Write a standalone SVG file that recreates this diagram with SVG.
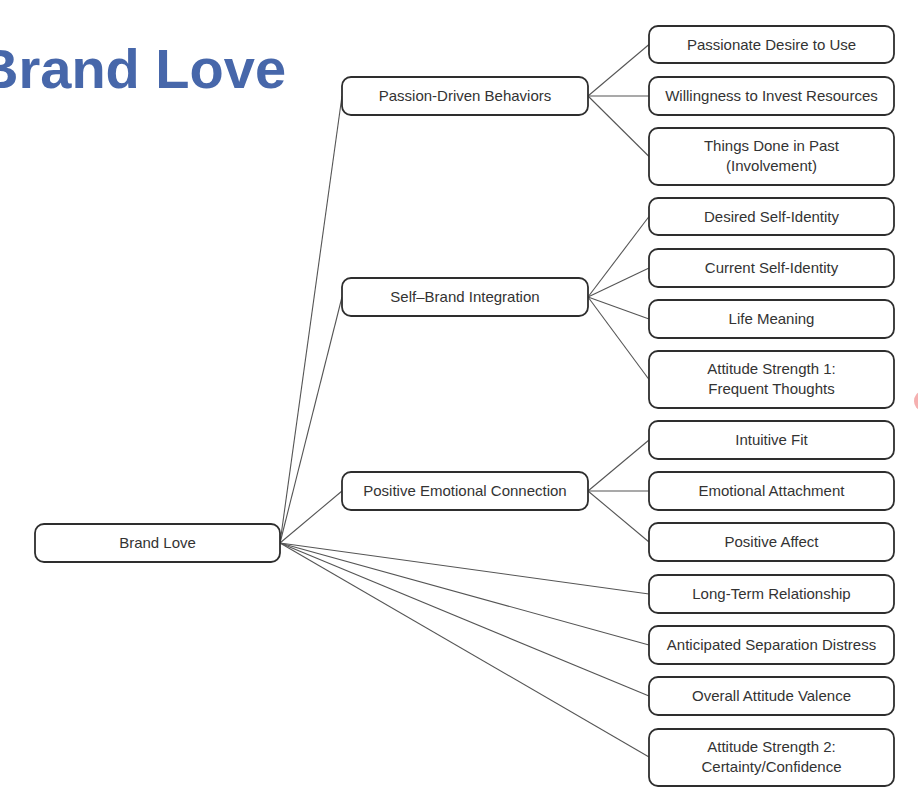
<svg xmlns="http://www.w3.org/2000/svg" width="918" height="798" viewBox="0 0 918 798">
<style>
.box{fill:#fff;stroke:#2e2e2e;stroke-width:1.8}
.t{font-family:"Liberation Sans",Arial,sans-serif;font-size:15px;fill:#333;text-anchor:middle}
.c line{stroke:#555;stroke-width:1.1}
</style>
<rect width="918" height="798" fill="#fff"/>
<text x="-22" y="88" font-family="Liberation Sans,Arial,sans-serif" font-weight="bold" font-size="56" fill="#4767aa">Brand Love</text>
<ellipse cx="921" cy="401" rx="7" ry="9" fill="#f5b0b0"/>
<g id="connectors" class="c">
<line x1="280" y1="543" x2="342" y2="96"/>
<line x1="280" y1="543" x2="342" y2="297"/>
<line x1="280" y1="543" x2="342" y2="491"/>
<line x1="280" y1="543" x2="649" y2="594"/>
<line x1="280" y1="543" x2="649" y2="645"/>
<line x1="280" y1="543" x2="649" y2="696"/>
<line x1="280" y1="543" x2="649" y2="757"/>
<line x1="588" y1="96" x2="649" y2="44.5"/>
<line x1="588" y1="96" x2="649" y2="96"/>
<line x1="588" y1="96" x2="649" y2="156.5"/>
<line x1="588" y1="297" x2="649" y2="216.5"/>
<line x1="588" y1="297" x2="649" y2="268"/>
<line x1="588" y1="297" x2="649" y2="319"/>
<line x1="588" y1="297" x2="649" y2="379.5"/>
<line x1="588" y1="491" x2="649" y2="440"/>
<line x1="588" y1="491" x2="649" y2="491"/>
<line x1="588" y1="491" x2="649" y2="542"/>
</g>
<g id="brand-love"><rect class="box" x="35" y="524" width="245" height="38" rx="9"/><text class="t" x="157.5" y="548">Brand Love</text></g>
<g id="passion-driven"><rect class="box" x="342" y="77" width="246" height="38" rx="9"/><text class="t" x="465" y="101">Passion-Driven Behaviors</text></g>
<g id="self-brand"><rect class="box" x="342" y="278" width="246" height="38" rx="9"/><text class="t" x="465" y="302">Self–Brand Integration</text></g>
<g id="positive-emotional"><rect class="box" x="342" y="472" width="246" height="38" rx="9"/><text class="t" x="465" y="496">Positive Emotional Connection</text></g>
<g id="desire"><rect class="box" x="649" y="26" width="245" height="37" rx="9"/><text class="t" x="771.5" y="49.5">Passionate Desire to Use</text></g>
<g id="willingness"><rect class="box" x="649" y="77" width="245" height="38" rx="9"/><text class="t" x="771.5" y="101">Willingness to Invest Resources</text></g>
<g id="things-done"><rect class="box" x="649" y="128" width="245" height="57" rx="9"/><text class="t" x="771.5" y="151">Things Done in Past</text><text class="t" x="771.5" y="171">(Involvement)</text></g>
<g id="desired-self"><rect class="box" x="649" y="198" width="245" height="37" rx="9"/><text class="t" x="771.5" y="221.5">Desired Self-Identity</text></g>
<g id="current-self"><rect class="box" x="649" y="249" width="245" height="38" rx="9"/><text class="t" x="771.5" y="273">Current Self-Identity</text></g>
<g id="life-meaning"><rect class="box" x="649" y="300" width="245" height="38" rx="9"/><text class="t" x="771.5" y="324">Life Meaning</text></g>
<g id="attitude-1"><rect class="box" x="649" y="351" width="245" height="57" rx="9"/><text class="t" x="771.5" y="374">Attitude Strength 1:</text><text class="t" x="771.5" y="394">Frequent Thoughts</text></g>
<g id="intuitive-fit"><rect class="box" x="649" y="421" width="245" height="38" rx="9"/><text class="t" x="771.5" y="445">Intuitive Fit</text></g>
<g id="emotional-attachment"><rect class="box" x="649" y="472" width="245" height="38" rx="9"/><text class="t" x="771.5" y="496">Emotional Attachment</text></g>
<g id="positive-affect"><rect class="box" x="649" y="523" width="245" height="38" rx="9"/><text class="t" x="771.5" y="547">Positive Affect</text></g>
<g id="long-term"><rect class="box" x="649" y="575" width="245" height="38" rx="9"/><text class="t" x="771.5" y="599">Long-Term Relationship</text></g>
<g id="separation"><rect class="box" x="649" y="626" width="245" height="38" rx="9"/><text class="t" x="771.5" y="650">Anticipated Separation Distress</text></g>
<g id="valence"><rect class="box" x="649" y="677" width="245" height="38" rx="9"/><text class="t" x="771.5" y="701">Overall Attitude Valence</text></g>
<g id="attitude-2"><rect class="box" x="649" y="729" width="245" height="57" rx="9"/><text class="t" x="771.5" y="752">Attitude Strength 2:</text><text class="t" x="771.5" y="772">Certainty/Confidence</text></g>
</svg>
